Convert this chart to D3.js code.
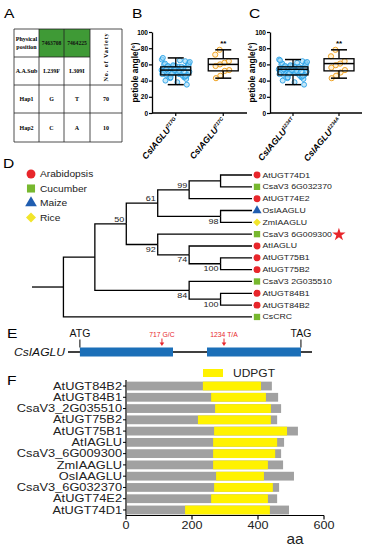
<!DOCTYPE html>
<html><head><meta charset="utf-8">
<script src="https://cdn.jsdelivr.net/npm/d3@7"></script>
<style>html,body{margin:0;padding:0;background:#fff;} svg{display:block}</style>
</head><body>
<svg id="fig" width="371" height="550"></svg>
<script>
// ================= DATA =================
// Panel A (haplotype table)
const tableHeader = ["Physical|position", "7463708", "7464225"];
const tableVarietyHeader = "No. of Variety";
const tableSub = ["A.A.Sub", "L239F", "L309I"];
const hapNames = ["Hap1", "Hap2"];
const hapSnp1 = ["G", "C"];
const hapSnp2 = ["T", "A"];
const hapCounts = ["70", "10"];

// Panels B and C (petiole angle box plots)
const groupsB = ["717G", "717C"];
const groupsC = ["1234T", "1234A"];
const yTicks = [0, 20, 40, 60, 80, 100];
// [min, q1, median, q3, max]
const boxB = [[35, 47, 53, 57, 68], [43, 52, 60, 67, 78]];
const boxC = [[35, 47, 54, 57, 66], [43, 52, 61, 67, 78]];
const pointsB1 = [53,48,57,45,51,60,55,47,62,50,54,44,58,52,49,56,35,53,61,46,55,51,57,48,64,52,50,54,43,59,53,47,56,49,66,51,55,42,58,52,54,48,60,50,57,45,53,68,51,56,47,54,40,55,49,63,52,58,46,53,50,57,44,55,38,54,51,59,48,65];
const pointsB2 = [78,72,64,62,60,58,53,52,46,43];
const pointsC1 = [54,49,57,46,52,60,55,47,62,50,53,44,58,52,49,56,35,54,61,46,55,51,57,48,64,52,50,54,43,59,53,47,56,49,66,51,55,42,58,52,54,48,60,50,57,45,53,65,51,56,47,54,40,55,49,63,52,58,46,53,50,57,44,55,38,54,51,59,48,62];
const pointsC2 = [78,70,64,61,59,56,53,50,46,43];
const signifLabel = "**";

// Panel D (phylogenetic tree)
const legendSpecies = ["Arabidopsis", "Cucumber", "Maize", "Rice"];
const leafNames = ["AtUGT74D1","CsaV3 6G032370","AtUGT74E2","OsIAAGLU","ZmIAAGLU","CsaV3 6G009300","AtIAGLU","AtUGT75B1","AtUGT75B2","CsaV3 2G035510","AtUGT84B1","AtUGT84B2","CsCRC"];
const leafSpecies = ["Arabidopsis","Cucumber","Arabidopsis","Maize","Rice","Cucumber","Arabidopsis","Arabidopsis","Arabidopsis","Cucumber","Arabidopsis","Arabidopsis","Cucumber"];
const starredLeaf = "CsaV3 6G009300";
const treeNewick = "(((((((AtUGT74D1,CsaV3 6G032370),AtUGT74E2)99,(OsIAAGLU,ZmIAAGLU)98)61,(CsaV3 6G009300,(AtIAGLU,(AtUGT75B1,AtUGT75B2)100)74)92)50,(CsaV3 2G035510,(AtUGT84B1,AtUGT84B2)100)84),CsCRC);";
const supportAbove = ["99", "61", "50"];

// Panel E (gene structure, schematic units)
const geneName = "CsIAGLU";
const geneBackbone = [-140, 2730];
const exonStarts = [0, 1495];
const exonEnds = [1095, 2600];
const codonNames = ["ATG", "TAG"];
const codonPos = [0, 2600];
const variantNames = ["717 G/C", "1234 T/A"];
const variantPos = [965, 1695];

// Panel F (domain architecture)
const proteins = ["AtUGT84B2","AtUGT84B1","CsaV3_2G035510","AtUGT75B2","AtUGT75B1","AtIAGLU","CsaV3_6G009300","ZmIAAGLU","OsIAAGLU","CsaV3_6G032370","AtUGT74E2","AtUGT74D1"];
const protLength = [442,461,470,458,521,479,470,476,509,464,458,494];
const domStart = [233,258,270,218,267,264,264,264,273,267,258,179];
const domEnd = [409,424,439,439,488,458,452,430,418,445,430,436];
const aaTicks = [0, 200, 400, 600];
const domainName = "UDPGT";
const aaLabel = "aa";

// ================= DRAW =================
const svg = d3.select("#fig");
const SANS = "'Liberation Sans', Arial, Helvetica, sans-serif";
const SERIF = "'Liberation Serif', 'Times New Roman', serif";

function label(g, x, y, s, o = {}) {
  const t = g.append("text")
    .attr("transform", `translate(${x},${y})` + (o.rot ? ` rotate(${o.rot})` : "") + ` scale(${o.sx || 1},1)`)
    .attr("font-family", o.ff || SANS)
    .attr("font-size", o.fs || 8)
    .attr("font-weight", o.fw || "normal")
    .attr("font-style", o.fst || "normal")
    .attr("text-anchor", o.anchor || "start")
    .attr("fill", o.fill || "#000")
    .text(s);
  if (o.ls) t.attr("letter-spacing", o.ls);
  return t;
}

// panel letters
[["A",4,18],["B",132,18],["C",249,18],["D",3,168],["E",7,338],["F",7,385]].forEach(([s,x,y]) =>
  label(svg, x, y, s, {fs: 12, sx: 1.3}));

// ---------- Panel A ----------
{
  const g = svg.append("g");
  const colEdges = [14, 39, 64, 90, 122];
  const rowEdges = [29, 57, 85, 113, 142];
  const cx = i => (colEdges[i] + colEdges[i+1]) / 2;
  const cy = i => (rowEdges[i] + rowEdges[i+1]) / 2;
  [1, 2].forEach(c => g.append("rect").attr("x", colEdges[c]).attr("y", rowEdges[0])
    .attr("width", colEdges[c+1]-colEdges[c]).attr("height", rowEdges[1]-rowEdges[0]).attr("fill", "#3f9a36"));
  rowEdges.forEach((ry, i) => {
    const x2 = i === 1 ? colEdges[3] : colEdges[4];
    g.append("line").attr("x1", colEdges[0]).attr("x2", x2).attr("y1", ry).attr("y2", ry).attr("stroke", "#222").attr("stroke-width", 0.8);
  });
  colEdges.forEach(cxv => g.append("line").attr("x1", cxv).attr("x2", cxv).attr("y1", rowEdges[0]).attr("y2", rowEdges[4]).attr("stroke", "#222").attr("stroke-width", 0.8));
  const tOpt = {ff: SERIF, fw: "bold", fs: 6, anchor: "middle"};
  const hdr = tableHeader[0].split("|");
  label(g, cx(0), cy(0) - 2.5, hdr[0], tOpt);
  label(g, cx(0), cy(0) + 5.5, hdr[1], tOpt);
  label(g, cx(1), cy(0) + 2, tableHeader[1], {...tOpt, fs: 5.6, fill: "#111"});
  label(g, cx(2), cy(0) + 2, tableHeader[2], {...tOpt, fs: 5.6, fill: "#111"});
  tableSub.forEach((s, i) => label(g, cx(i), cy(1) + 2, s, tOpt));
  hapNames.forEach((h, r) => {
    label(g, cx(0), cy(2 + r) + 2, h, tOpt);
    label(g, cx(1), cy(2 + r) + 2, hapSnp1[r], tOpt);
    label(g, cx(2), cy(2 + r) + 2, hapSnp2[r], tOpt);
    label(g, cx(3), cy(2 + r) + 2, hapCounts[r], tOpt);
  });
  label(g, cx(3) + 2, rowEdges[1], tableVarietyHeader, {ff: SERIF, fw: "bold", fs: 6.2, anchor: "middle", rot: -90, ls: 0.9});
}

// ---------- Panels B, C ----------
function boxPanel(xr, groups, stats, pts1, pts2, titleX) {
  const g = svg.append("g");
  const y = d3.scaleLinear().domain([0, 100]).range([113, 32]);
  const x = d3.scalePoint().domain(groups).range(xr).padding(0.5);
  const bw = 30, cw = 16;
  const blue = pts1.map((v, i) => ({v, j: ((i * 0.6180339) % 1) - 0.5}));
  g.selectAll("circle.p1").data(blue).join("circle")
    .attr("cx", d => x(groups[0]) + d.j * bw * 0.95)
    .attr("cy", d => y(d.v)).attr("r", 2.5)
    .attr("fill", "#9fd8f7").attr("fill-opacity", 0.6)
    .attr("stroke", "#2aa2e6").attr("stroke-width", 0.9);
  const orange = pts2.map((v, i) => ({v, j: ((i * 0.7548776 + 0.3) % 1) - 0.5}));
  g.selectAll("circle.p2").data(orange).join("circle")
    .attr("cx", d => x(groups[1]) + d.j * bw * 0.6)
    .attr("cy", d => y(d.v)).attr("r", 2.6)
    .attr("fill", "#fde6b8").attr("fill-opacity", 0.5)
    .attr("stroke", "#f0a426").attr("stroke-width", 1);
  stats.forEach((s, i) => {
    const c = x(groups[i]);
    const gg = g.append("g").attr("stroke", "#000").attr("fill", "none");
    gg.append("line").attr("x1", c).attr("x2", c).attr("y1", y(s[0])).attr("y2", y(s[1])).attr("stroke-width", 1.3);
    gg.append("line").attr("x1", c).attr("x2", c).attr("y1", y(s[3])).attr("y2", y(s[4])).attr("stroke-width", 1.3);
    gg.append("line").attr("x1", c - cw/2).attr("x2", c + cw/2).attr("y1", y(s[0])).attr("y2", y(s[0])).attr("stroke-width", 1.5);
    gg.append("line").attr("x1", c - cw/2).attr("x2", c + cw/2).attr("y1", y(s[4])).attr("y2", y(s[4])).attr("stroke-width", 1.5);
    gg.append("rect").attr("x", c - bw/2).attr("y", y(s[3])).attr("width", bw).attr("height", y(s[1]) - y(s[3])).attr("stroke-width", 1.3);
    gg.append("line").attr("x1", c - bw/2).attr("x2", c + bw/2).attr("y1", y(s[2])).attr("y2", y(s[2])).attr("stroke-width", 1.5);
  });
  label(g, x(groups[1]), y(85) + 2, signifLabel, {fs: 8, fw: "bold", anchor: "middle"});
  const ax = g.append("g").attr("transform", `translate(${xr[0]},0)`)
    .call(d3.axisLeft(y).tickValues(yTicks).tickSize(3).tickSizeOuter(0));
  ax.select(".domain").attr("stroke-width", 1.3);
  ax.selectAll(".tick line").attr("stroke-width", 1.2);
  ax.selectAll(".tick text").attr("font-size", 6.5).attr("font-weight", "bold").attr("font-family", SANS).attr("x", -4);
  g.append("line").attr("x1", xr[0]).attr("x2", xr[1]).attr("y1", y(0)).attr("y2", y(0)).attr("stroke", "#000").attr("stroke-width", 1.3);
  groups.forEach(gr => {
    g.append("line").attr("x1", x(gr)).attr("x2", x(gr)).attr("y1", y(0)).attr("y2", y(0) + 3).attr("stroke", "#000").attr("stroke-width", 1.2);
    const t = g.append("text").attr("transform", `translate(${x(gr) + 3},${y(0) + 8}) rotate(-50)`)
      .attr("text-anchor", "end").attr("font-family", SANS).attr("font-weight", "bold").attr("font-style", "italic").attr("font-size", 8.8);
    t.append("tspan").text(geneName);
    t.append("tspan").attr("dy", -3.5).attr("font-size", 5).text(gr);
  });
  label(g, titleX, (y(0) + y(100)) / 2, "petiole angle(°)", {fs: 8.4, fw: "bold", anchor: "middle", rot: -90});
}
boxPanel([152, 247], groupsB, boxB, pointsB1, pointsB2, 138);
boxPanel([270, 362], groupsC, boxC, pointsC1, pointsC2, 254.5);

// ---------- Panel D ----------
function parseNewick(s) {
  let i = 0;
  function node() {
    const n = {};
    if (s[i] === "(") {
      i++; n.children = [node()];
      while (s[i] === ",") { i++; n.children.push(node()); }
      i++;
    }
    let name = "";
    while (i < s.length && !",();".includes(s[i])) name += s[i++];
    if (n.children) { if (name) n.support = name; } else n.name = name;
    return n;
  }
  return node();
}
const colorOf = {Arabidopsis: "#e8262b", Cucumber: "#77b82f", Maize: "#1f5db0", Rice: "#f2e52a"};
function symbolPath(sp, size) {
  if (sp === "Arabidopsis") return d3.symbol().type(d3.symbolCircle).size(size)();
  if (sp === "Cucumber") return d3.symbol().type(d3.symbolSquare).size(size * 1.05)();
  if (sp === "Maize") return d3.symbol().type(d3.symbolTriangle).size(size * 0.95)();
  return d3.symbol().type(d3.symbolSquare).size(size * 0.8)();
}
function symbolRot(sp) { return sp === "Rice" ? 45 : 0; }
{
  const g = svg.append("g");
  const ly = d3.scalePoint().domain(legendSpecies).range([174, 217.5]);
  legendSpecies.forEach(sp => {
    g.append("path").attr("d", symbolPath(sp, 62))
      .attr("transform", `translate(31,${ly(sp)}) rotate(${symbolRot(sp)})`).attr("fill", colorOf[sp]);
    label(g, 40, ly(sp) + 3, sp, {fs: 8.5, sx: 1.2, fill: "#222"});
  });
  const root = d3.hierarchy(parseNewick(treeNewick));
  const step = 11.83, nLeaves = leafNames.length;
  d3.cluster().size([step * nLeaves, 220]).separation(() => 1)(root);
  const TX = d => 32 + d.y, TY = d => 175 - step / 2 + d.x;
  g.selectAll("path.link").data(root.links()).join("path")
    .attr("d", l => `M${TX(l.source)},${TY(l.source)}V${TY(l.target)}H${TX(l.target)}`)
    .attr("fill", "none").attr("stroke", "#000").attr("stroke-width", 1.3);
  root.descendants().filter(d => d.data.support).forEach(d => {
    const above = supportAbove.includes(d.data.support);
    label(g, TX(d) - 2, TY(d) + (above ? -2 : 7.5), d.data.support, {fs: 7.2, sx: 1.25, anchor: "end", fill: "#222"});
  });
  root.leaves().forEach(d => {
    const sp = leafSpecies[leafNames.indexOf(d.data.name)];
    g.append("path").attr("d", symbolPath(sp, 38))
      .attr("transform", `translate(${TX(d) + 5},${TY(d)}) rotate(${symbolRot(sp)})`).attr("fill", colorOf[sp]);
    const t = label(g, TX(d) + 10.5, TY(d) + 2.5, d.data.name, {fs: 7, sx: 1.25, fill: "#222"});
    if (d.data.name === starredLeaf) {
      const w = t.node().getComputedTextLength() * 1.25;
      g.append("path").attr("d", d3.symbol().type(d3.symbolStar).size(55)())
        .attr("transform", `translate(${TX(d) + 10.5 + w + 7},${TY(d) + 0.5})`).attr("fill", "#e8262b");
    }
  });
}

// ---------- Panel E ----------
{
  const g = svg.append("g");
  const x = d3.scaleLinear().domain(geneBackbone).range([68, 312]);
  const yc = 352;
  g.append("line").attr("x1", x(geneBackbone[0])).attr("x2", x(geneBackbone[1])).attr("y1", yc).attr("y2", yc).attr("stroke", "#000").attr("stroke-width", 1.3);
  exonStarts.forEach((s, i) => g.append("rect").attr("x", x(s)).attr("y", yc - 4.5).attr("width", x(exonEnds[i]) - x(s)).attr("height", 9).attr("fill", "#1b6fb8"));
  codonNames.forEach((c, i) => {
    g.append("line").attr("x1", x(codonPos[i])).attr("x2", x(codonPos[i])).attr("y1", 339.5).attr("y2", yc - 4.5).attr("stroke", "#000").attr("stroke-width", 1);
    label(g, x(codonPos[i]), 337, c, {fs: 10.5, anchor: "middle", fill: "#111"});
  });
  variantNames.forEach((v, i) => {
    const vx = x(variantPos[i]);
    label(g, vx, 336.5, v, {fs: 6.8, anchor: "middle", fill: "#e8262b"});
    g.append("line").attr("x1", vx).attr("x2", vx).attr("y1", 338.5).attr("y2", 343).attr("stroke", "#e8262b").attr("stroke-width", 1);
    g.append("path").attr("d", `M${vx - 2.3},${342.5}L${vx + 2.3},${342.5}L${vx},${346}Z`).attr("fill", "#e8262b");
  });
  label(g, 65, 356, geneName, {fs: 11, fst: "italic", sx: 1.1, anchor: "end", fill: "#111"});
}

// ---------- Panel F ----------
{
  const g = svg.append("g");
  const x = d3.scaleLinear().domain([0, 600]).range([126, 324]);
  const y = d3.scaleBand().domain(proteins).range([380.5, 515.5]).paddingInner(0.22).paddingOuter(0.1);
  g.selectAll("rect.len").data(proteins).join("rect")
    .attr("x", x(0) + 1).attr("y", p => y(p)).attr("height", y.bandwidth())
    .attr("width", (p, i) => x(protLength[i]) - x(0) - 1).attr("fill", "#a1a1a1");
  g.selectAll("rect.dom").data(proteins).join("rect")
    .attr("x", (p, i) => x(domStart[i])).attr("y", p => y(p)).attr("height", y.bandwidth())
    .attr("width", (p, i) => x(domEnd[i]) - x(domStart[i])).attr("fill", "#fff200");
  g.append("line").attr("x1", x(0)).attr("x2", x(0)).attr("y1", 380).attr("y2", 515.5).attr("stroke", "#000").attr("stroke-width", 1.2);
  proteins.forEach(p => {
    const cy = y(p) + y.bandwidth() / 2;
    g.append("line").attr("x1", x(0) - 3).attr("x2", x(0)).attr("y1", cy).attr("y2", cy).attr("stroke", "#000").attr("stroke-width", 1);
    label(g, x(0) - 4, cy + 3.6, p, {fs: 10, sx: 1.28, anchor: "end", fill: "#222"});
  });
  g.append("line").attr("x1", x(0)).attr("x2", x(600)).attr("y1", 515.5).attr("y2", 515.5).attr("stroke", "#000").attr("stroke-width", 1.2);
  aaTicks.forEach(t => {
    g.append("line").attr("x1", x(t)).attr("x2", x(t)).attr("y1", 515.5).attr("y2", 519.5).attr("stroke", "#000").attr("stroke-width", 1.2);
    label(g, x(t), 528.5, String(t), {fs: 10.5, sx: 1.2, anchor: "middle", fill: "#222"});
  });
  label(g, 295, 544, aaLabel, {fs: 14, sx: 1.1, anchor: "middle", fill: "#222"});
  g.append("rect").attr("x", 203).attr("y", 369).attr("width", 20).attr("height", 8).attr("fill", "#fff200");
  label(g, 233, 377, domainName, {fs: 10, sx: 1.2, fill: "#222"});
}
</script>
</body></html>
